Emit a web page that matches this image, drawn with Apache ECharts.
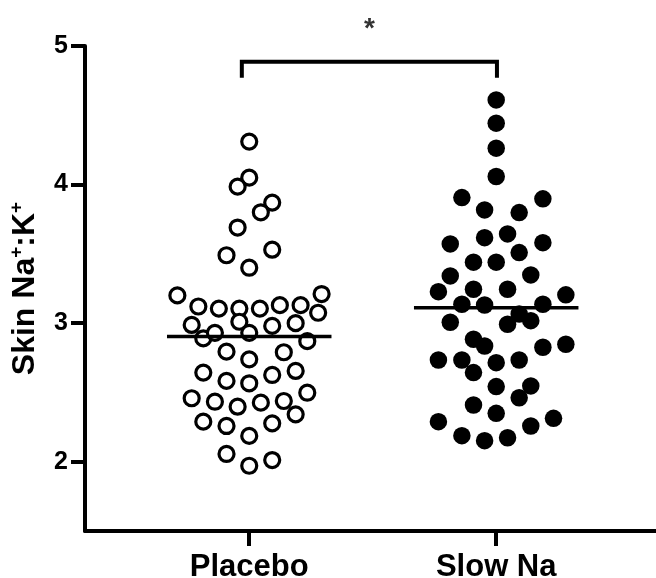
<!DOCTYPE html>
<html>
<head>
<meta charset="utf-8">
<script src="https://cdn.jsdelivr.net/npm/echarts@6/dist/echarts.min.js"></script>
<style>
  html, body { margin: 0; padding: 0; background: #fff; }
  #chart { width: 656px; height: 578px; }
</style>
</head>
<body>
<div id="chart"></div>
<script>
// Groups on the x axis
const groups = ['Placebo', 'Slow Na'];
const yTicks = [2, 3, 4, 5];

// Skin Na+:K+ ratio per subject, with horizontal spread (in group widths) for the dot plot
const placeboValues = [
  4.31, 4.05, 3.985, 3.87, 3.80, 3.69, 3.53, 3.49, 3.40,
  3.20, 3.21, 3.12, 3.105, 3.105, 3.105, 3.13, 3.13, 3.075,
  3.01, 2.987, 2.98, 3.00, 2.89, 2.93, 2.93, 2.87,
  2.794, 2.739, 2.79, 2.643, 2.583, 2.566, 2.626, 2.655,
  2.458, 2.433, 2.397, 2.426, 2.438, 2.498, 2.342, 2.289,
  2.258, 2.277, 2.186, 2.056, 1.971, 2.012
];
const placeboSpread = [
  0, 0, -0.047, 0.093, 0.047, -0.047, 0.093, -0.092, 0,
  -0.291, 0.293, -0.206, -0.123, -0.040, 0.043, 0.124, 0.208, 0.279,
  -0.040, -0.233, 0.093, 0.188, -0.186, -0.139, 0, 0.235,
  -0.092, 0, 0.140, -0.186, -0.092, 0, 0.093, 0.188,
  -0.233, -0.139, -0.047, 0.047, 0.140, 0.235, 0.188, -0.186,
  -0.092, 0.093, 0, -0.092, 0, 0.093
];
const slowNaValues = [
  4.611, 4.443, 4.263, 4.058, 3.906, 3.897, 3.817, 3.798,
  3.617, 3.644, 3.572, 3.581, 3.509, 3.44, 3.44, 3.341, 3.348,
  3.227, 3.245, 3.245, 3.204, 3.136, 3.131, 3.136, 3.066,
  3.006, 2.992, 3.018, 2.884, 2.835, 2.826, 2.848,
  2.734, 2.734, 2.715, 2.734, 2.643, 2.542, 2.547, 2.462,
  2.409, 2.349, 2.289, 2.313, 2.258, 2.188, 2.152, 2.173
];
const slowNaSpread = [
  0, 0, 0, 0, -0.139, 0.189, -0.047, 0.093,
  -0.047, 0.046, -0.186, 0.189, 0.093, -0.092, 0, -0.186, 0.140,
  -0.234, -0.092, 0.046, 0.282, -0.139, -0.047, 0.189, 0.093,
  -0.186, 0.046, 0.140, -0.092, -0.047, 0.189, 0.282,
  -0.234, -0.139, 0, 0.093, -0.092, 0, 0.140, 0.093,
  -0.092, 0, -0.234, 0.232, 0.140, -0.139, -0.047, 0.046
];

// Significance bracket between the two groups
const bracketEnds = [-0.03, 1.003];
const bracketTop = 4.886;
const bracketFoot = 4.77;
const sigMark = '*';

const FONT = '"Liberation Sans", Arial, Helvetica, sans-serif';
const INK = '#000';

function points(groupIndex, spread, values) {
  return values.map((v, i) => [groupIndex + spread[i], v]);
}
function mean(arr) {
  return arr.reduce((a, b) => a + b, 0) / arr.length;
}
function meanBar(groupIndex, values) {
  const m = mean(values);
  return [[groupIndex - 0.333, m], [groupIndex + 0.333, m]];
}

const chart = echarts.init(document.getElementById('chart'), null, { renderer: 'canvas' });

chart.setOption({
  animation: false,
  backgroundColor: '#fff',
  grid: { left: 85, right: 0, top: 46, bottom: 47, containLabel: false, outerBoundsMode: 'none' },
  xAxis: {
    type: 'value',
    min: -0.665,
    max: 1.647,
    splitLine: { show: false },
    axisLine: { show: true, onZero: false, lineStyle: { color: INK, width: 4 } },
    axisTick: { show: true, customValues: [0, 1], length: 15, lineStyle: { color: INK, width: 4 } },
    axisLabel: {
      customValues: [0, 1],
      formatter: v => groups[Math.round(v)] || '',
      color: INK, fontFamily: FONT, fontWeight: 'bold', fontSize: 31, margin: 21
    }
  },
  yAxis: {
    type: 'value',
    min: 1.5,
    max: 5,
    splitLine: { show: false },
    axisLine: { show: true, onZero: false, lineStyle: { color: INK, width: 4 } },
    axisTick: { show: true, customValues: yTicks, length: 14, lineStyle: { color: INK, width: 4 } },
    axisLabel: {
      customValues: yTicks,
      color: INK, fontFamily: FONT, fontWeight: 'bold', fontSize: 25, margin: 17
    },
    name: '{b|Skin Na}{s|+}{b|:K}{s|+}',
    nameLocation: 'middle',
    nameGap: 42,
    nameRotate: 90,
    nameTextStyle: {
      rich: {
        b: { fontFamily: FONT, fontWeight: 'bold', fontSize: 32, color: INK, lineHeight: 36 },
        s: { fontFamily: FONT, fontWeight: 'bold', fontSize: 19, color: INK, verticalAlign: 'top', lineHeight: 36, padding: [0, 0, 12, 0] }
      }
    }
  },
  series: [
    {
      name: groups[0],
      type: 'scatter',
      data: points(0, placeboSpread, placeboValues),
      symbol: 'circle',
      symbolSize: 15,
      itemStyle: { color: '#fff', borderColor: INK, borderWidth: 3.2, opacity: 1 },
      z: 2
    },
    {
      name: groups[1],
      type: 'scatter',
      data: points(1, slowNaSpread, slowNaValues),
      symbol: 'circle',
      symbolSize: 17.5,
      itemStyle: { color: INK, opacity: 1 },
      z: 2
    },
    {
      type: 'line',
      data: meanBar(0, placeboValues),
      symbol: 'none',
      lineStyle: { color: INK, width: 3.5 },
      z: 3
    },
    {
      type: 'line',
      data: meanBar(1, slowNaValues),
      symbol: 'none',
      lineStyle: { color: INK, width: 3.5 },
      z: 3
    },
    {
      type: 'line',
      data: [
        [bracketEnds[0], bracketFoot], [bracketEnds[0], bracketTop],
        [bracketEnds[1], bracketTop], [bracketEnds[1], bracketFoot]
      ],
      symbol: 'none',
      clip: false,
      lineStyle: { color: INK, width: 4, join: 'miter' },
      z: 3
    },
    {
      type: 'scatter',
      data: [[(bracketEnds[0] + bracketEnds[1]) / 2, bracketTop]],
      symbolSize: 0,
      clip: false,
      label: {
        show: true,
        position: 'top',
        distance: 19,
        formatter: sigMark,
        color: INK, fontFamily: FONT, fontWeight: 'bold', fontSize: 28
      },
      z: 3
    }
  ]
});
</script>
</body>
</html>
